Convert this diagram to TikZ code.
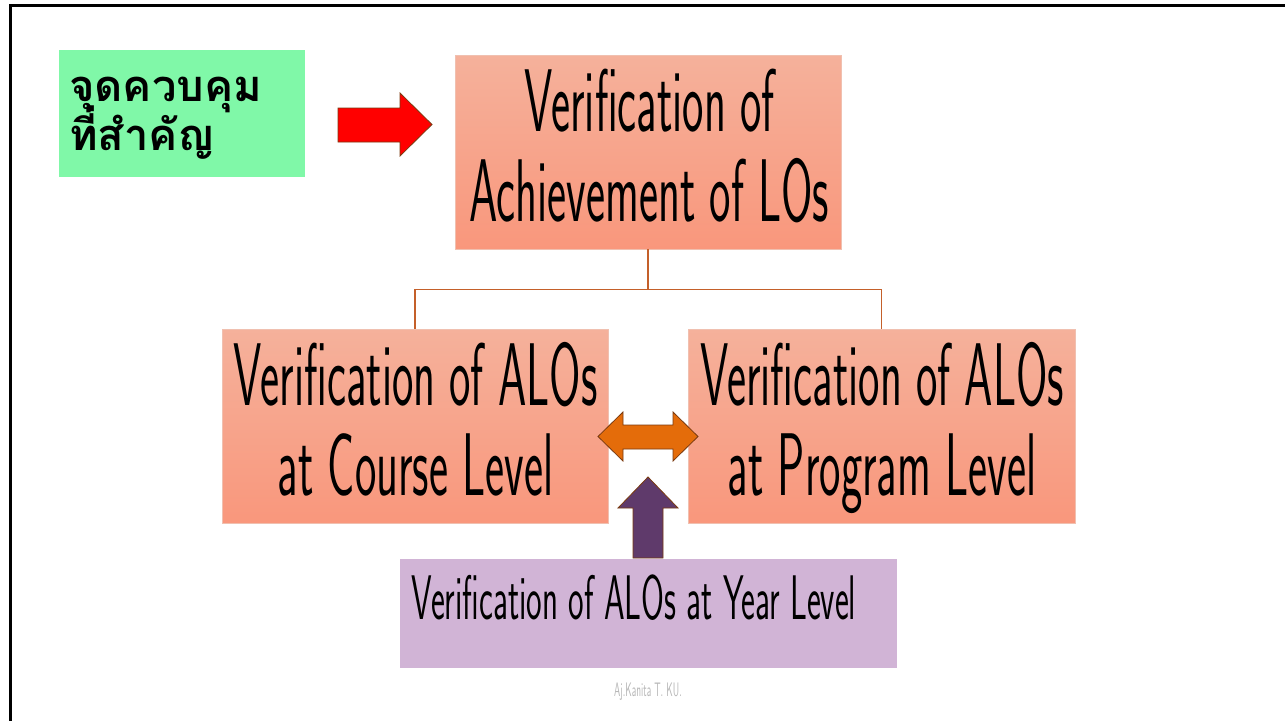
\documentclass[tikz,border=0pt]{standalone}
\usepackage{fontspec}
\setmainfont{Latin Modern Sans}
\newfontfamily\thinf{Latin Modern Sans}[FakeStretch=0.51]
\newfontfamily\thinyf{Latin Modern Sans}[FakeStretch=0.525]
\newfontfamily\thaifont[Script=Thai]{Loma}
\definecolor{boxtop}{HTML}{F5B19B}
\definecolor{boxbot}{HTML}{F9977C}
\definecolor{boxedge}{HTML}{F0C0B0}
\definecolor{greenbox}{HTML}{80F8A8}
\definecolor{purplebox}{HTML}{D1B4D6}
\definecolor{linkc}{HTML}{C4602A}
\definecolor{orangearr}{HTML}{E46C0A}
\definecolor{purplearr}{HTML}{5F3A6B}
\definecolor{arrowedge}{HTML}{7A3A10}
\definecolor{footc}{HTML}{B8B8B8}
\tikzset{
  vbox/.style={draw=boxedge, line width=0.6pt, top color=boxtop, bottom color=boxbot,
    minimum width=386pt, minimum height=194pt, inner sep=0pt},
  bigline/.style={anchor=base, inner sep=0pt, font=\thinf\fontsize{89}{90}\selectfont},
  thailine/.style={anchor=base west, inner sep=0pt, font=\thaifont\bfseries\fontsize{43.5}{50}\selectfont},
  link/.style={draw=linkc, line width=1.4pt},
  blockarrow/.style={draw=arrowedge, line width=0.8pt, line join=miter}
}
\begin{document}
\begin{tikzpicture}[x=1pt,y=-1pt]
\useasboundingbox (0,0) rectangle (1285,721);
\fill[white] (0,0) rectangle (1285,721);
% frame
\draw[black, line width=3pt] (10,5.5) -- (1285,5.5);
\draw[black, line width=3pt] (10,4) -- (10,721);
% green label
\node (ctrl) [fill=greenbox, minimum width=246pt, minimum height=127pt, inner sep=0pt] at (182,113.5) {};
\node (ctrl1) [thailine] at (69,101) {จุดควบคุม};
\node (ctrl2) [thailine] at (69,150) {ที่สำคัญ};
% red arrow
\filldraw[blockarrow, fill=red] (338,108) -- (400,108) -- (400,93) -- (432,124.5) -- (400,156) -- (400,142) -- (338,142) -- cycle;
% boxes
\node (top) [vbox] at (648,152) {};
\node (top1) [bigline] at (649.5,131) {Verification of};
\node (top2) [bigline] at (649.5,221) {Achievement of LOs};
\node (left) [vbox] at (415,426) {};
\node (left1) [bigline] at (415.5,405) {Verification of ALOs};
\node (left2) [bigline] at (415.5,495) {at Course Level};
\node (right) [vbox, minimum width=387pt] at (881.5,426) {};
\node (right1) [bigline] at (882,405) {Verification of ALOs};
\node (right2) [bigline] at (882,495) {at Program Level};
% connectors
\draw[link] (top.south) -- ++(0,40) coordinate (mid) -| (left.north);
\draw[link] (mid) -| (right.north);
% orange double arrow
\filldraw[blockarrow, fill=orangearr] (598,436.5) -- (623,412) -- (623,425) -- (673,425) -- (673,412) -- (698,436.5) -- (673,461) -- (673,449) -- (623,449) -- (623,461) -- cycle;
% purple box
\node (year) [fill=purplebox, minimum width=497pt, minimum height=109pt, inner sep=0pt] at (648.5,613.5) {};
\node (yeartext) [anchor=base west, inner sep=0pt, font=\thinyf\fontsize{63}{70}\selectfont] at (411,619) {Verification of ALOs at Year Level};
% purple up arrow
\filldraw[blockarrow, fill=purplearr] (648,477) -- (678,508) -- (663,508) -- (663,558) -- (633,558) -- (633,508) -- (618,508) -- cycle;
% footer
\node (foot) [text=footc, inner sep=0pt, font=\thinf\fontsize{19.5}{22}\selectfont] at (648,692) {Aj.Kanita T. KU.};
\end{tikzpicture}
\end{document}
